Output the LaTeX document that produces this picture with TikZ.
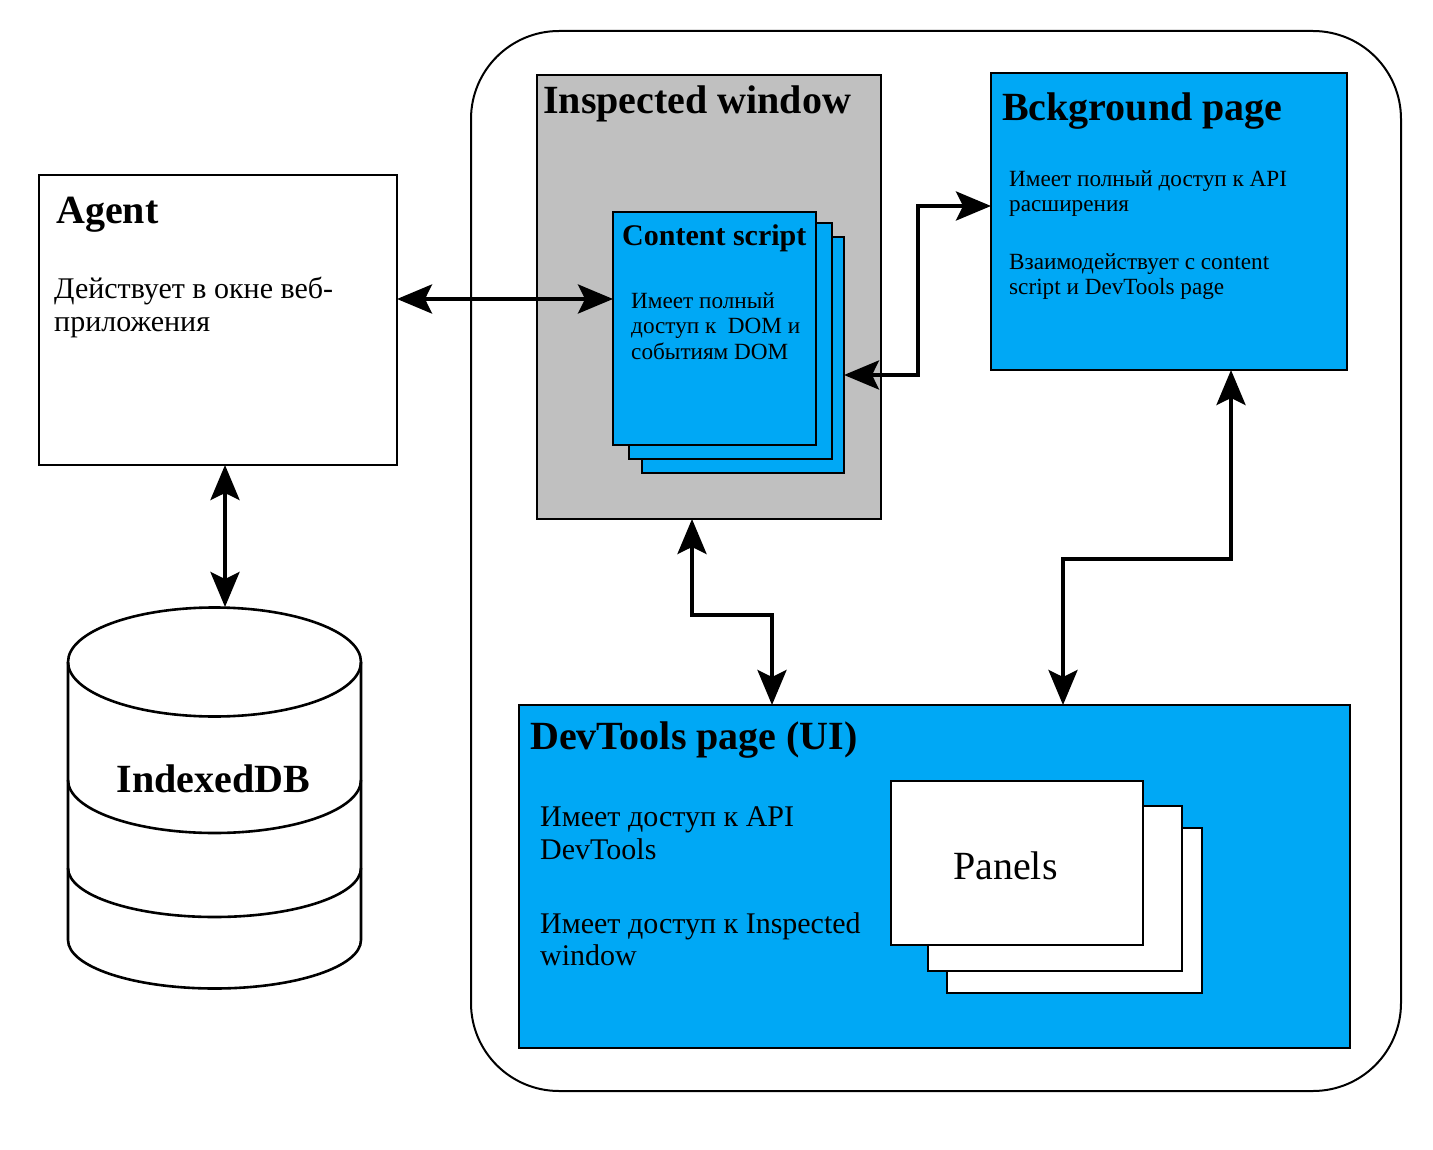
\documentclass[tikz,border=0pt]{standalone}
\usepackage{fontspec}
\setmainfont{Liberation Serif}
\usepackage{xcolor}
\usetikzlibrary{arrows.meta,positioning,calc}
\definecolor{bluecol}{RGB}{0,168,245}
\definecolor{graycol}{RGB}{192,192,192}
\tikzset{
  block/.style={draw, rectangle, inner sep=0pt, outer sep=0pt, anchor=north west, line width=2.6pt},
  title/.style={anchor=base west, inner sep=0pt, font=\fontsize{40}{40}\selectfont\bfseries},
  desc/.style={anchor=north west, inner sep=0pt, align=left},
  link/.style={line width=4pt, {Stealth[length=35pt,width=29pt,inset=7pt]}-{Stealth[length=35pt,width=29pt,inset=7pt]}},
  dbline/.style={line width=2.6pt}
}
\begin{document}
\begin{tikzpicture}[x=1pt, y=-1pt]
\useasboundingbox (0,0) rectangle (1433,1150);
\fill[white] (0,0) rectangle (1433,1150);
\node[block, line width=2pt, minimum width=930pt, minimum height=1060pt, rounded corners=88pt] (ext) at (471,31) {};
% agent and database
\node[block, line width=2pt, fill=white, minimum width=358pt, minimum height=290pt] (agent) at (39,175) {};
\node[title] (agenttitle) at (56,224) {Agent};
\node[desc, font=\fontsize{30}{33}\selectfont] (agenttext) at (54,277) {Действует в окне веб-\\приложения};
\draw[dbline] (68,662) arc[start angle=180, end angle=-180, x radius=146.5, y radius=54.5];
\draw[dbline] (68,662) -- (68,940) arc[start angle=180, end angle=0, x radius=146.5, y radius=48.5] -- (361,662);
\draw[dbline] (68,780) arc[start angle=180, end angle=0, x radius=146.5, y radius=53];
\draw[dbline] (68,868) arc[start angle=180, end angle=0, x radius=146.5, y radius=49];
\coordinate (dbtop) at (225,607);
\node[title, anchor=base] (dbtitle) at (213.5,792) {IndexedDB};
% inspected window
\node[block, line width=2pt, fill=graycol, minimum width=344pt, minimum height=444pt] (iw) at (537,75) {};
\node[title] (iwtitle) at (543,114) {Inspected window};
\node[block, fill=bluecol, minimum width=202pt, minimum height=236pt] (csc) at (642,237) {};
\node[block, fill=bluecol, minimum width=203pt, minimum height=236pt] (csb) at (629,223) {};
\node[block, fill=bluecol, minimum width=203pt, minimum height=233pt] (csa) at (613,212) {};
\node[title, font=\fontsize{30}{30}\selectfont\bfseries] (cstitle) at (622,246) {Content script};
\node[desc, font=\fontsize{23.2}{25.6}\selectfont] (cstext) at (631,292) {Имеет полный\\доступ к~~DOM и\\событиям DOM};
% background page
\node[block, fill=bluecol, minimum width=356pt, minimum height=297pt] (bg) at (991,73) {};
\node[title] (bgtitle) at (1002,121) {Bckground page};
\node[desc, font=\fontsize{23.2}{25.6}\selectfont] (bgtexta) at (1009,170) {Имеет полный доступ к API\\расширения};
\node[desc, font=\fontsize{23.2}{25.6}\selectfont] (bgtextb) at (1009,253) {Взаимодействует с content\\script и DevTools page};
% devtools page
\node[block, fill=bluecol, minimum width=831pt, minimum height=343pt] (dev) at (519,705) {};
\node[title] (devtitle) at (530,749) {DevTools page (UI)};
\node[desc, font=\fontsize{30}{33}\selectfont] (devtexta) at (540,806) {Имеет доступ к API\\DevTools};
\node[desc, font=\fontsize{30}{32.5}\selectfont] (devtextb) at (540,912) {Имеет доступ к Inspected\\window};
\node[block, fill=white, minimum width=255pt, minimum height=165pt] (panc) at (947,828) {};
\node[block, fill=white, minimum width=254pt, minimum height=165pt] (panb) at (928,806) {};
\node[block, fill=white, minimum width=252pt, minimum height=164pt] (pana) at (891,781) {};
\node[anchor=base west, inner sep=0pt, font=\fontsize{40}{40}\selectfont] (pantitle) at (953,879) {Panels};
% connectors
\draw[link] (agent.south -| dbtop) -- (dbtop);
\draw[link] ([yshift=21pt]agent.east) -- ([yshift=29.5pt]csa.west);
\draw[link] ([yshift=-20pt]csc.east) -- ++(74,0) |- ([yshift=15.5pt]bg.west);
\draw[link] ([xshift=-17pt]iw.south) -- ++(0,96) -| ([xshift=-162.5pt]dev.north);
\draw[link] ([xshift=62pt]bg.south) -- ++(0,189) -| ([xshift=128.5pt]dev.north);
\end{tikzpicture}
\end{document}
